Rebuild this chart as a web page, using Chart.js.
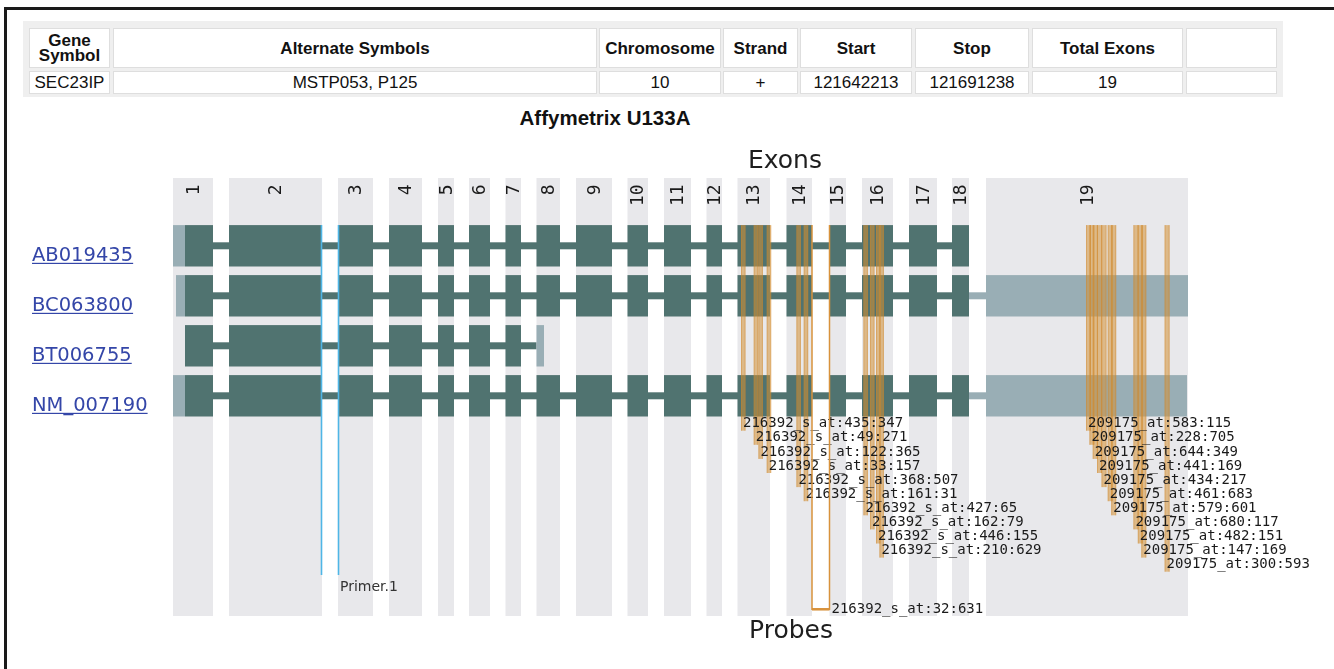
<!DOCTYPE html>
<html lang="en">
<head>
  <meta charset="UTF-8">
  <title>SEC23IP exon / probe map</title>
  <script src="https://cdn.jsdelivr.net/npm/chart.js"></script>
  <style>
    body {
      margin: 0;
      background: #fff;
      width: 1334px;
      height: 669px;
      overflow: hidden;
      position: relative;
      font-family: "Liberation Sans", Arial, sans-serif;
      color: #111;
    }
    .frame {
      position: absolute;
      left: 4px;
      top: 7px;
      width: 1400px;
      height: 700px;
      border-left: 3px solid #1a1a1a;
      border-top: 3px solid #1a1a1a;
    }
    .box {
      position: absolute;
      left: 23px;
      top: 21px;
      width: 1260px;
      height: 76px;
      background: #efefef;
    }
    .cell {
      position: absolute;
      background: #fff;
      border: 1px solid #dedede;
      box-sizing: border-box;
      display: flex;
      align-items: center;
      justify-content: center;
      text-align: center;
    }
    .hd { font-weight: bold; font-size: 17px; line-height: 15px; }
    .dt { font-size: 17px; }
    .title {
      position: absolute;
      left: 500px;
      width: 210px;
      top: 106px;
      text-align: center;
      font-weight: bold;
      font-size: 20.5px;
    }
    #wrap {
      position: absolute;
      left: 0;
      top: 100px;
      width: 1334px;
      height: 569px;
    }
  </style>
</head>
<body>
  <div class="frame"></div>
  <div class="box"></div>

  <!-- gene info table -->
  <div class="cell hd" style="left:29px;top:28px;width:81px;height:40px">Gene<br>Symbol</div>
  <div class="cell hd" style="left:113px;top:28px;width:484px;height:40px">Alternate Symbols</div>
  <div class="cell hd" style="left:599px;top:28px;width:122px;height:40px">Chromosome</div>
  <div class="cell hd" style="left:723px;top:28px;width:75px;height:40px">Strand</div>
  <div class="cell hd" style="left:800px;top:28px;width:112px;height:40px">Start</div>
  <div class="cell hd" style="left:915px;top:28px;width:114px;height:40px">Stop</div>
  <div class="cell hd" style="left:1032px;top:28px;width:151px;height:40px">Total Exons</div>
  <div class="cell hd" style="left:1186px;top:28px;width:91px;height:40px"></div>

  <div class="cell dt" style="left:29px;top:71px;width:81px;height:23px">SEC23IP</div>
  <div class="cell dt" style="left:113px;top:71px;width:484px;height:23px">MSTP053, P125</div>
  <div class="cell dt" style="left:599px;top:71px;width:122px;height:23px">10</div>
  <div class="cell dt" style="left:723px;top:71px;width:75px;height:23px">+</div>
  <div class="cell dt" style="left:800px;top:71px;width:112px;height:23px">121642213</div>
  <div class="cell dt" style="left:915px;top:71px;width:114px;height:23px">121691238</div>
  <div class="cell dt" style="left:1032px;top:71px;width:151px;height:23px">19</div>
  <div class="cell dt" style="left:1186px;top:71px;width:91px;height:23px"></div>

  <div class="title">Affymetrix U133A</div>

  <div id="wrap"><canvas id="geneChart" width="1334" height="569"></canvas></div>

<script>
// exon columns (display position along the gene)
const exonNames = ['1','2','3','4','5','6','7','8','9','10','11','12','13','14','15','16','17','18','19'];
const exonStart = [173, 229, 338, 389, 438, 469, 505.5, 536.5, 576, 627.5, 664, 706.5, 737.5, 786.5, 829.5, 862, 909, 952, 986];
const exonEnd   = [213, 322, 373, 422, 454, 490, 521, 560, 612, 648, 691, 722, 770, 812, 846, 893, 937, 969, 1188];

// transcripts, one row each
const transcripts = ['AB019435', 'BC063800', 'BT006755', 'NM_007190'];
const utr5Start   = [173, 176, null, 173];
const cdsStart    = [185, 185, 185, 185];
const lastExon    = [18, 18, 7, 18];          // last coding exon (1-based)
const utr3Start   = [null, 986, 536.5, 986];
const utr3End     = [null, 1188, 544, 1187];
const utr3Light   = [false, true, false, true]; // colour of the line into the 3' UTR

// probes of 216392_s_at (label tier = row of the label below the map)
const probes216   = ['216392_s_at:435:347', '216392_s_at:49:271', '216392_s_at:122:365', '216392_s_at:33:157',
                     '216392_s_at:368:507', '216392_s_at:161:31', '216392_s_at:427:65', '216392_s_at:162:79',
                     '216392_s_at:446:155', '216392_s_at:210:629'];
const start216    = [741, 753.7, 758.4, 766.7, 796.4, 803.7, 863.4, 870, 876, 879.4];
const tier216     = [0, 1, 2, 3, 4, 5, 6, 7, 8, 9];

// split probe across the exon 14/15 junction
const splitProbe  = '216392_s_at:32:631';
const splitEdges  = [812, 829.5];
const splitLevel  = 7.27;

// probes of 209175_at
const probes209   = ['209175_at:583:115', '209175_at:228:705', '209175_at:644:349', '209175_at:441:169',
                     '209175_at:434:217', '209175_at:461:683', '209175_at:579:601', '209175_at:680:117',
                     '209175_at:482:151', '209175_at:147:169', '209175_at:300:593'];
const start209    = [1086, 1089.4, 1092.7, 1097, 1101.5, 1107.7, 1111.2, 1133.4, 1137.8, 1141.3, 1164.6];
const tier209     = [0, 1, 2, 3, 4, 5, 6, 7, 8, 9, 10];

// primer
const primerName  = 'Primer.1';
const primerEdges = [321.5, 338.5];
const primerEnd   = 6.584;

// vertical layout in row units (row i centred on i)
const rowHalf = 0.414;
const intronHalf = 0.07;
const colTop = -1.356, colBottom = 7.404;
const tierBase = 3.558, tierStep = 0.282;

const COL_GRAY = '#e8e8eb';
const EXON = '#507370';
const UTR = '#99aeb5';
const PROBE_FILL = 'rgba(212,145,55,0.55)';
const PROBE_EDGE = 'rgba(205,128,35,0.35)';
const PRIMER = '#4fb6e6';

const geneDiagram = {
  id: 'geneDiagram',
  afterDraw(chart) {
    const ctx = chart.ctx;
    const xs = chart.scales.x, ys = chart.scales.y;
    const X = v => xs.getPixelForValue(v);
    const Y = v => ys.getPixelForValue(v);
    ctx.save();

    // exon columns
    ctx.fillStyle = COL_GRAY;
    exonNames.forEach((n, i) => {
      ctx.fillRect(X(exonStart[i]), Y(colTop), X(exonEnd[i]) - X(exonStart[i]), Y(colBottom) - Y(colTop));
    });

    // exon numbers, rotated
    ctx.fillStyle = '#1a1a1a';
    ctx.font = '18px "DejaVu Sans Mono"';
    exonNames.forEach((n, i) => {
      ctx.save();
      ctx.translate(X((exonStart[i] + exonEnd[i]) / 2) + 1, Y(-1.23));
      ctx.rotate(-Math.PI / 2);
      ctx.textAlign = 'right';
      ctx.textBaseline = 'middle';
      ctx.fillText(n, 0, 0);
      ctx.restore();
    });

    // titles
    ctx.font = '25px "DejaVu Sans"';
    ctx.textAlign = 'center';
    ctx.textBaseline = 'middle';
    ctx.fillStyle = '#1e1e1e';
    ctx.fillText('Exons', X(785), Y(-1.696));
    ctx.fillText('Probes', X(791), Y(7.704));

    // transcripts
    transcripts.forEach((t, r) => {
      const top = Y(r - rowHalf), h = Y(r + rowHalf) - top;
      const lTop = Y(r - intronHalf), lh = Y(r + intronHalf) - lTop;
      const cdsEnd = exonEnd[lastExon[r] - 1];
      ctx.fillStyle = EXON;
      ctx.fillRect(X(cdsStart[r]), lTop, X(cdsEnd) - X(cdsStart[r]), lh);
      if (utr3Start[r] !== null) {
        ctx.fillStyle = utr3Light[r] ? UTR : EXON;
        ctx.fillRect(X(cdsEnd), lTop, X(utr3Start[r]) - X(cdsEnd), lh);
        ctx.fillStyle = UTR;
        ctx.fillRect(X(utr3Start[r]), top, X(utr3End[r]) - X(utr3Start[r]), h);
      }
      if (utr5Start[r] !== null) {
        ctx.fillStyle = UTR;
        ctx.fillRect(X(utr5Start[r]), top, X(cdsStart[r]) - X(utr5Start[r]), h);
      }
      ctx.fillStyle = EXON;
      for (let i = 0; i < lastExon[r]; i++) {
        const a = Math.max(exonStart[i], cdsStart[r]);
        ctx.fillRect(X(a), top, X(exonEnd[i]) - X(a), h);
      }

      // accession link
      ctx.font = '19.5px "DejaVu Sans"';
      ctx.textAlign = 'left';
      ctx.textBaseline = 'alphabetic';
      ctx.fillStyle = '#3446a8';
      const base = Y(r + 0.3);
      ctx.fillText(t, X(32), base);
      const w = ctx.measureText(t).width;
      ctx.fillRect(X(32), base + 2, w, 1.2);
    });

    // primer
    ctx.strokeStyle = PRIMER;
    ctx.lineWidth = 1.6;
    primerEdges.forEach(e => {
      ctx.beginPath();
      ctx.moveTo(X(e), Y(-rowHalf));
      ctx.lineTo(X(e), Y(primerEnd));
      ctx.stroke();
    });
    ctx.fillStyle = '#333';
    ctx.font = '14px "DejaVu Sans"';
    ctx.textAlign = 'left';
    ctx.textBaseline = 'middle';
    ctx.fillText(primerName, X(primerEdges[1] + 1.5), Y(6.838));

    // probes
    const drawProbes = (names, starts, tiers, width) => {
      names.forEach((n, i) => {
        const lvl = tierBase + tiers[i] * tierStep;
        const x1 = X(starts[i]), x2 = X(starts[i] + width);
        const y1 = Y(-rowHalf), y2 = Y(lvl + 0.14);
        ctx.fillStyle = PROBE_FILL;
        ctx.fillRect(x1, y1, x2 - x1, y2 - y1);
        ctx.strokeStyle = PROBE_EDGE;
        ctx.lineWidth = 1;
        ctx.beginPath();
        ctx.moveTo(x1 + 0.5, y1);
        ctx.lineTo(x1 + 0.5, y2);
        ctx.moveTo(x2 - 0.5, y1);
        ctx.lineTo(x2 - 0.5, y2);
        ctx.stroke();
      });
      ctx.fillStyle = '#1a1a1a';
      ctx.font = '14px "DejaVu Sans Mono"';
      ctx.textAlign = 'left';
      ctx.textBaseline = 'middle';
      names.forEach((n, i) => {
        ctx.fillText(n, X(starts[i] + 2), Y(tierBase + tiers[i] * tierStep));
      });
    };
    drawProbes(probes216, start216, tier216, 4.5);
    drawProbes(probes209, start209, tier209, 5);

    // split probe
    ctx.strokeStyle = '#d8923c';
    ctx.lineWidth = 1.5;
    ctx.beginPath();
    ctx.moveTo(X(splitEdges[0]), Y(-rowHalf));
    ctx.lineTo(X(splitEdges[0]), Y(splitLevel));
    ctx.lineTo(X(splitEdges[1]), Y(splitLevel));
    ctx.lineTo(X(splitEdges[1]), Y(-rowHalf));
    ctx.stroke();
    ctx.lineWidth = 2.5;
    ctx.beginPath();
    ctx.moveTo(X(splitEdges[0]), Y(splitLevel));
    ctx.lineTo(X(splitEdges[1]), Y(splitLevel));
    ctx.stroke();
    ctx.fillStyle = '#1a1a1a';
    ctx.font = '14px "DejaVu Sans Mono"';
    ctx.fillText(splitProbe, X(splitEdges[1] + 2), Y(splitLevel));

    ctx.restore();
  }
};

new Chart(document.getElementById('geneChart'), {
  type: 'scatter',
  data: { datasets: [{ data: [], pointRadius: 0 }] },
  options: {
    responsive: false,
    animation: false,
    layout: { padding: 0 },
    plugins: { legend: { display: false }, tooltip: { enabled: false } },
    scales: {
      x: { type: 'linear', min: 0, max: 1334, display: false },
      y: { type: 'linear', min: -2.916, max: 8.464, reverse: true, display: false }
    }
  },
  plugins: [geneDiagram]
});
</script>
</body>
</html>
